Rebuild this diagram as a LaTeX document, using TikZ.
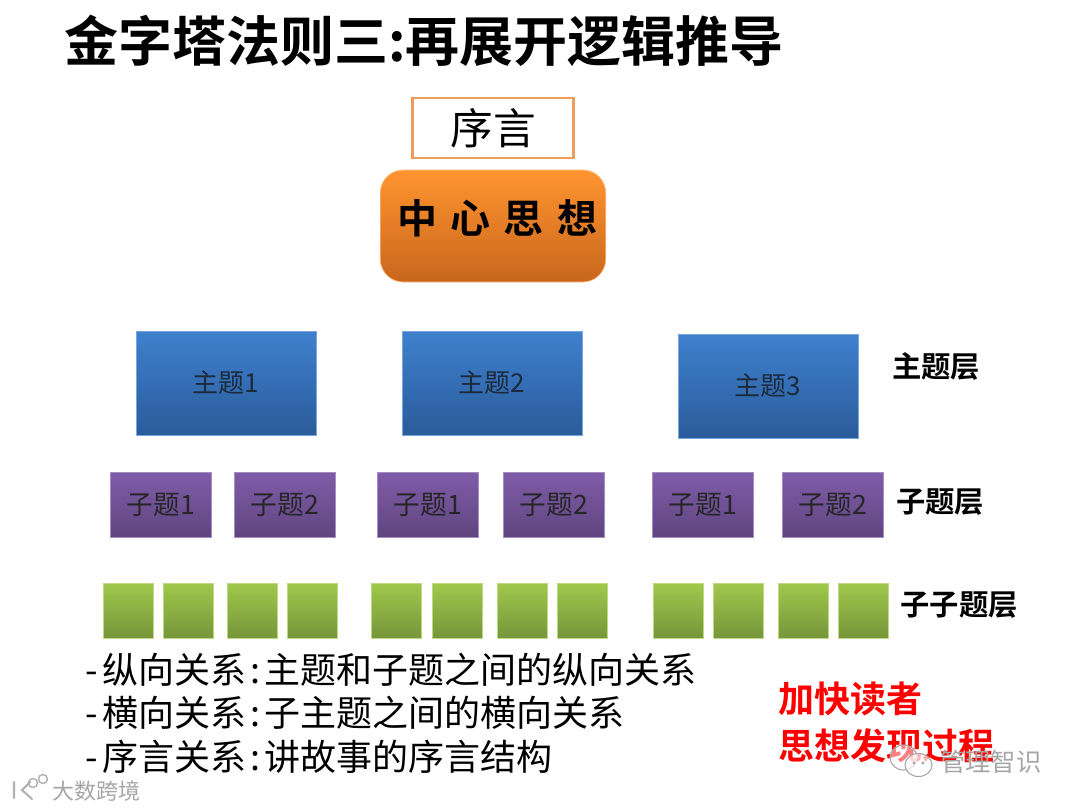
\documentclass[tikz,border=0pt]{standalone}
\usepackage{fontspec}
\setmainfont{Noto Sans CJK SC}[BoldFont={Noto Sans CJK SC Bold}]
\newfontfamily\cjkb{Noto Sans CJK SC Bold}
\newcommand{\fs}[1]{\fontsize{#1}{#1}\selectfont}
\definecolor{otop}{HTML}{FF9430}\definecolor{obot}{HTML}{C8661C}
\definecolor{btop}{HTML}{3F80CE}\definecolor{bbot}{HTML}{2A5C9A}
\definecolor{ptop}{HTML}{7F5CA8}\definecolor{pbot}{HTML}{5F4580}
\definecolor{gtop}{HTML}{A0C84C}\definecolor{gbot}{HTML}{76963A}
\definecolor{boxtext}{HTML}{1C2A3C}
\definecolor{prefline}{HTML}{EE9E5A}
\tikzset{
 pxbox/.style={inner sep=0pt,outer sep=0pt,anchor=center},
 themebox/.style={pxbox,minimum width=135pt,minimum height=78pt,top color=btop,bottom color=bbot,draw=btop!70!white,line width=.6pt,text=boxtext,font=\fs{19.5}},
 subbox/.style={pxbox,minimum width=76pt,minimum height=49pt,top color=ptop,bottom color=pbot,draw=ptop!70!white,line width=.6pt,text=black!85,font=\fs{20}},
 leafbox/.style={pxbox,minimum width=37.5pt,minimum height=41pt,top color=gtop,bottom color=gbot,draw=gtop!70!white,line width=.5pt},
 layerlabel/.style={inner sep=0pt,anchor=center,font=\cjkb\fs{22}},
 listline/.style={inner sep=0pt,anchor=west,font=\fs{27}},
 redtext/.style={inner sep=0pt,anchor=west,text=red,font=\cjkb\fs{27}},
 wmark/.style={inner sep=0pt,anchor=west,text=black!35},
}
\begin{document}
\begin{tikzpicture}[x=0.75pt,y=-0.75pt]
\useasboundingbox (0,0) rectangle (1080,810);
\fill[white] (0,0) rectangle (1080,810);
\node[inner sep=0pt,anchor=west,font=\cjkb\fs{40.5}] (title) at (64,41) {金字塔法则三:再展开逻辑推导};
\node[pxbox,minimum width=121pt,minimum height=45pt,draw=prefline,line width=1.9pt,fill=white,font=\fs{32}] (preface) at (493,128) {序言};
\node[pxbox,minimum width=169pt,minimum height=84pt,rounded corners=17pt,top color=otop,bottom color=obot,draw=otop!60!white,line width=.5pt] (central) at (493,226) {};
\node[inner sep=0pt,font=\cjkb\fs{30}] (centraltext) at (497,218) {中\hspace{10pt}心\hspace{10pt}思\hspace{10pt}想};
\node[themebox] (t1) at (226,383) {\raisebox{-1pt}{主题1}};
\node[themebox] (t2) at (492,383) {\raisebox{-1pt}{主题2}};
\node[themebox] (t3) at (768,386) {\raisebox{-1pt}{主题3}};
\node[subbox] (s1) at (161,505) {子题1\hspace{5pt}};
\node[subbox] (s2) at (285,505) {子题2\hspace{5pt}};
\node[subbox] (s3) at (428,505) {子题1\hspace{5pt}};
\node[subbox] (s4) at (554,505) {子题2\hspace{5pt}};
\node[subbox] (s5) at (703,505) {子题1\hspace{5pt}};
\node[subbox] (s6) at (833,505) {子题2\hspace{5pt}};
\node[leafbox] (g1) at (128,610.5) {};
\node[leafbox] (g2) at (188,610.5) {};
\node[leafbox] (g3) at (252.5,610.5) {};
\node[leafbox] (g4) at (312.5,610.5) {};
\node[leafbox] (g5) at (396.5,610.5) {};
\node[leafbox] (g6) at (457,610.5) {};
\node[leafbox] (g7) at (522,610.5) {};
\node[leafbox] (g8) at (582,610.5) {};
\node[leafbox] (g9) at (678,610.5) {};
\node[leafbox] (g10) at (738,610.5) {};
\node[leafbox] (g11) at (803,610.5) {};
\node[leafbox] (g12) at (863,610.5) {};
\node[layerlabel] (l1) at (936,366) {主题层};
\node[layerlabel] (l2) at (940,502) {子题层};
\node[layerlabel] (l3) at (959,605) {子子题层};
\node[listline] (a1) at (85,670) {-\hspace{3.5pt}纵向关系\hspace{3pt}:\hspace{3pt}主题和子题之间的纵向关系};
\node[listline] (a2) at (85,713) {-\hspace{3.5pt}横向关系\hspace{3pt}:\hspace{3pt}子主题之间的横向关系};
\node[listline] (a3) at (85,757) {-\hspace{3.5pt}序言关系\hspace{3pt}:\hspace{3pt}讲故事的序言结构};
\node[redtext] (r1) at (778,699) {加快读者};
\node[redtext] (r2) at (778,746) {思想发现过程};
\node[wmark,font=\fs{19}] (w1) at (940,762) {管理智识};
\node[wmark,font=\fs{16.5}] (w2) at (52,791) {大数跨境};
\draw[black!35,line width=.8pt,fill=white,fill opacity=.5] (903.5,757.5) ellipse [x radius=13.5,y radius=12.5];
\draw[black!35,line width=.8pt,fill=white,fill opacity=.7] (918.5,765) ellipse [x radius=13.5,y radius=11.5];
\fill[black!35] (914,763) circle (1.6) (923,763) circle (1.6);
\draw[black!30,line width=1.6pt,line cap=round] (14,782) -- (14,798) (30,782) -- (22,790) -- (32,799);
\draw[black!30,line width=1.1pt] (33,783) circle (4.5) (43,779) circle (4.5);
\end{tikzpicture}
\end{document}
